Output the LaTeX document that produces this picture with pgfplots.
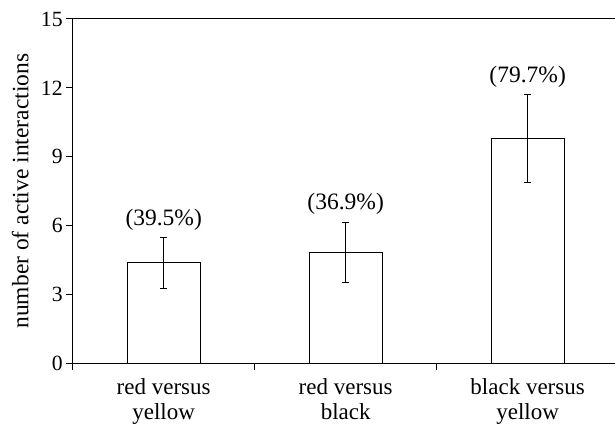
\documentclass[border=0pt]{standalone}
\usepackage{fontspec}
\setmainfont{Liberation Serif}
\usepackage{pgfplots}
\pgfplotsset{compat=1.18}
\usepackage{pgfplotstable}

\pgfplotstableread{
x y err
0 4.38 1.11
1 4.84 1.31
2 9.80 1.91
}\bardata

\begin{document}
\begin{tikzpicture}
\begin{axis}[
  name=ax,
  scale only axis,
  width=542.3pt, height=344.3pt,
  xmin=-0.5, xmax=2.48,
  ymin=0, ymax=15,
  axis lines=left,
  axis line style={-, line width=1pt},
  tick align=outside,
  major tick length=6.5pt,
  minor tick length=6.5pt,
  ytick={0,3,...,15},
  y tick style={line width=1pt, black},
  xtick={0,1,2},
  xticklabels={{red versus\\yellow},{red versus\\black},{black versus\\yellow}},
  major x tick style={draw=none},
  minor xtick={-0.5,0.5,1.5},
  minor x tick style={line width=1pt, black},
  /pgf/number format/assume math mode=true,
  yticklabel style={font=\fontsize{21.7}{22}\selectfont},
  xticklabel style={font=\fontsize{23}{25}\selectfont, align=center, yshift=-5pt},
  ylabel={number of active interactions},
  ylabel style={font=\fontsize{23.5}{24}\selectfont, at={(axis description cs:-0.097,0.5)}, anchor=center},
  clip=false,
]
\addplot[ybar, bar width=73pt, fill=white, draw=black, line width=1pt,
  error bars/.cd, y dir=both, y explicit,
  error bar style={line width=1pt, black},
  error mark options={rotate=90, line width=1pt, mark size=3.5pt, black}]
  table[x=x, y=y, y error=err] {\bardata};
\addplot[draw=none, mark=none, nodes near coords, point meta=explicit symbolic,
  nodes near coords style={anchor=south, inner sep=0pt, yshift=7pt, font=\fontsize{23.5}{24}\selectfont, black}]
  coordinates {(0,5.49) [(39.5\%)] (1,6.15) [(36.9\%)] (2,11.71) [(79.7\%)]};
\draw[line width=1pt] (rel axis cs:0,1) -- (rel axis cs:1,1);
\end{axis}
\pgfresetboundingbox
\path[use as bounding box] ([xshift=-72.7pt,yshift=-63.7pt]ax.south west) rectangle ([yshift=19pt]ax.north east);
\end{tikzpicture}
\end{document}
